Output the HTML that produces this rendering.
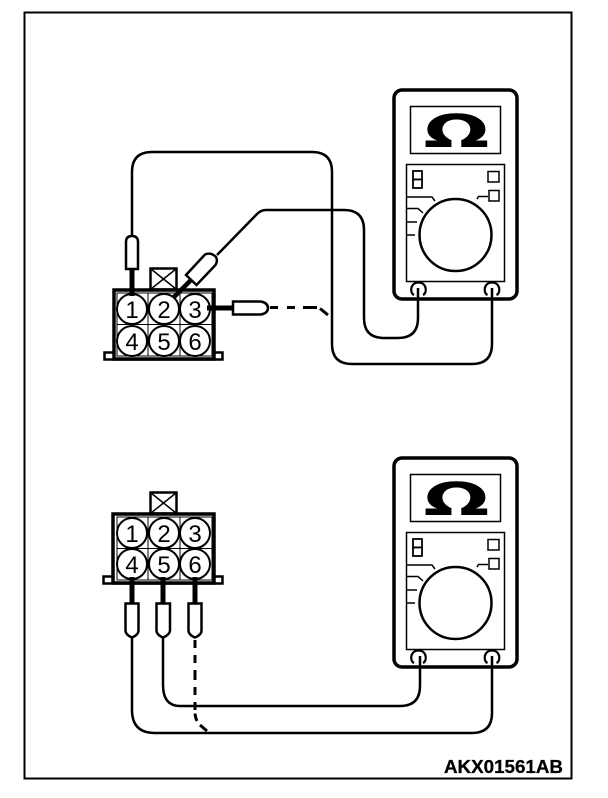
<!DOCTYPE html>
<html>
<head>
<meta charset="utf-8">
<style>
html,body{margin:0;padding:0;background:#fff;width:608px;height:798px;overflow:hidden}
svg{display:block}
text{font-family:"Liberation Sans",sans-serif;fill:#000}
.d{font-size:24px;text-anchor:middle}
</style>
</head>
<body>
<svg width="608" height="798" viewBox="0 0 608 798" xmlns="http://www.w3.org/2000/svg">
<defs>
<g id="meter">
  <rect x="394" y="90" width="123" height="209" rx="8" fill="#fff" stroke="#000" stroke-width="3.5"/>
  <rect x="410.500" y="106.500" width="90" height="47" fill="#fff" stroke="#000" stroke-width="1.500"/>
  <rect x="406.500" y="164.500" width="98" height="117" fill="#fff" stroke="#000" stroke-width="1.500"/>
  <text x="0" y="0" transform="translate(423.500 147) scale(1.72 1)" style="font-family:'DejaVu Sans',sans-serif;font-size:45px;font-weight:bold">Ω</text>
  <circle cx="455.500" cy="235" r="36" fill="#fff" stroke="#000" stroke-width="2.500"/>
  <rect x="413" y="171" width="9" height="8.500" fill="#fff" stroke="#000" stroke-width="1.800"/>
  <rect x="413" y="179.500" width="9" height="8.500" fill="#fff" stroke="#000" stroke-width="1.800"/>
  <rect x="488" y="171.500" width="11" height="10.500" fill="#fff" stroke="#000" stroke-width="1.500"/>
  <rect x="489" y="190.500" width="10" height="10.500" fill="#fff" stroke="#000" stroke-width="1.500"/>
  <path d="M407 197H432L435 201M407 208.500H418L423 213M407 222H417M407 235H415M477 199L478.500 196.500H488" fill="none" stroke="#000" stroke-width="1.500"/>
  <path d="M414 295C409.500 293 410 282.500 418.500 282.500C427 282.500 427.500 293 423 295" fill="#fff" stroke="#000" stroke-width="2.200"/>
  <path d="M487.500 295C483 293 483.500 282.500 492 282.500C500.500 282.500 501 293 496.500 295" fill="#fff" stroke="#000" stroke-width="2.200"/>
</g>
<g id="cgrid" fill="none" stroke="#000" stroke-width="1">
  <path d="M117 0H212M117 31.500H212M117 63H212M148 0V63M180 0V63"/>
</g>
</defs>

<!-- Frame -->
<rect x="24.500" y="12.500" width="547" height="766" fill="none" stroke="#000" stroke-width="2"/>

<use href="#meter"/>
<use href="#meter" y="368"/>

<!-- Top wires -->
<g fill="none" stroke="#000" stroke-width="2.500">
  <path d="M132 236V172Q132 152 152 152H312Q332 152 332 172V344Q332 364 352 364H472Q492 364 492 344V288"/>
  <path d="M217 255L257 214Q261 210 266 210H344Q364 210 364 230V318Q364 338 384 338H398Q418 338 418 318V288"/>
  <path d="M270 307.500H278M287 307.500H295M303 307.500H317M320 308.500L328 315" stroke-width="3"/>
</g>

<!-- Top connector -->
<rect x="150.500" y="268.500" width="26" height="21" fill="#fff" stroke="#000" stroke-width="2.500"/>
<path d="M151 269L176 289M176 269L151 289" stroke="#000" stroke-width="1.500"/>
<rect x="104.500" y="352.500" width="118" height="7" fill="#fff" stroke="#000" stroke-width="2.500"/>
<rect x="114" y="290" width="100" height="69" fill="#fff" stroke="#000" stroke-width="3.500"/>
<rect x="117" y="293" width="95" height="63" fill="#fff" stroke="#000" stroke-width="1"/>
<use href="#cgrid" y="293"/>
<g fill="#fff" stroke="#000" stroke-width="2">
  <circle cx="132" cy="309" r="15"/><circle cx="164" cy="309" r="15"/><circle cx="195" cy="309" r="15"/>
  <circle cx="132" cy="341" r="15"/><circle cx="164" cy="341" r="15"/><circle cx="195" cy="341" r="15"/>
</g>
<text class="d" x="132" y="318">1</text><text class="d" x="164" y="318">2</text><text class="d" x="195" y="318">3</text>
<text class="d" x="132" y="350">4</text><text class="d" x="164" y="350">5</text><text class="d" x="195" y="350">6</text>

<!-- Top probes -->
<path d="M132 268V296" stroke="#000" stroke-width="5" fill="none"/>
<path d="M126 269V242Q126 236 132 236Q138 236 138 242V269Z" fill="#fff" stroke="#000" stroke-width="2.500"/>
<path d="M173 298L191 280" stroke="#000" stroke-width="4.500" fill="none"/>
<path d="M186 275L205 254.500Q211 252 216 257Q218 261 215.500 265L196.500 285Z" fill="#fff" stroke="#000" stroke-width="2.500"/>
<path d="M207 308H234" stroke="#000" stroke-width="5" fill="none"/>
<path d="M233 301.500H261Q268 303 268 308Q268 313 261 314.500H233Z" fill="#fff" stroke="#000" stroke-width="2.500"/>

<!-- Bottom wires -->
<g fill="none" stroke="#000" stroke-width="2.500">
  <path d="M132 636V710Q132 733 155 733H472Q492 733 492 713V656"/>
  <path d="M163 636V685Q163 706 180 706H400Q420 706 420 686V656"/>
  <path d="M195 640V648M195 655V663M195 670V680M195 687V695M195 702V710M195 713.500Q195.500 718 197 721M200 725L207 731" stroke-width="3"/>
</g>

<!-- Bottom connector -->
<rect x="150.500" y="492.500" width="26" height="21" fill="#fff" stroke="#000" stroke-width="2.500"/>
<path d="M151 493L176 513M176 493L151 513" stroke="#000" stroke-width="1.500"/>
<rect x="103.500" y="576.500" width="119" height="7" fill="#fff" stroke="#000" stroke-width="2.500"/>
<rect x="113" y="514" width="101" height="69" fill="#fff" stroke="#000" stroke-width="3.500"/>
<rect x="117" y="517" width="95" height="63" fill="#fff" stroke="#000" stroke-width="1"/>
<use href="#cgrid" y="517"/>
<g fill="#fff" stroke="#000" stroke-width="2">
  <circle cx="132" cy="533" r="15"/><circle cx="164" cy="533" r="15"/><circle cx="195" cy="533" r="15"/>
  <circle cx="132" cy="564" r="15"/><circle cx="164" cy="564" r="15"/><circle cx="195" cy="564" r="15"/>
</g>
<text class="d" x="132" y="542">1</text><text class="d" x="164" y="542">2</text><text class="d" x="195" y="542">3</text>
<text class="d" x="132" y="573">4</text><text class="d" x="164" y="573">5</text><text class="d" x="195" y="573">6</text>

<!-- Bottom probes -->
<path d="M132 577V604M163 577V604M195 577V604" stroke="#000" stroke-width="5" fill="none"/>
<g fill="#fff" stroke="#000" stroke-width="2.500">
  <path d="M125.500 603.500H138.500V631Q138 635 132 637.500Q126 635 125.500 631Z"/>
  <path d="M156.500 603.500H170V631Q169 635 163 637.500Q157 635 156.500 631Z"/>
  <path d="M188.500 603.500H201.500V631Q201 635 195 637.500Q189 635 188.500 631Z"/>
</g>

<text x="444" y="773" textLength="119" lengthAdjust="spacingAndGlyphs" style="font-size:18.500px;font-weight:bold;stroke:#000;stroke-width:.3">AKX01561AB</text>
</svg>
</body>
</html>
